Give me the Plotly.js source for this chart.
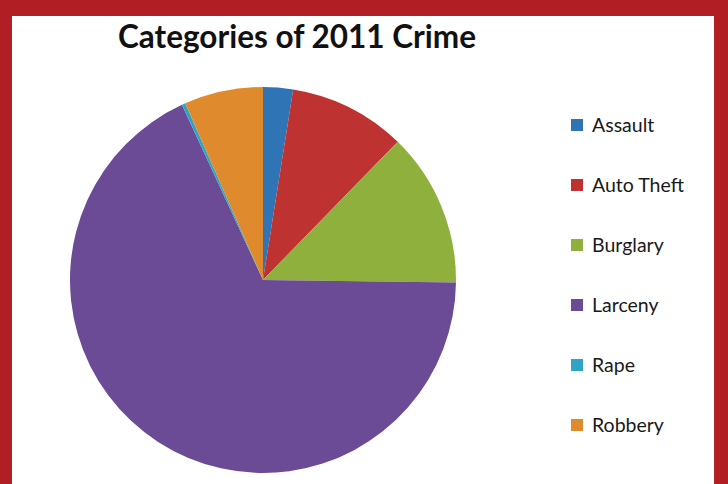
<!DOCTYPE html>
<html>
<head>
<meta charset="utf-8">
<script src="https://cdn.plot.ly/plotly-3.0.1.min.js"></script>
<style>
  html, body { margin: 0; padding: 0; background: #b11f24; width: 728px; height: 484px; overflow: hidden; }
  #chart { position: absolute; left: 12px; top: 16px; width: 702px; height: 468px; background: #ffffff; }
</style>
</head>
<body>
<div id="chart"></div>
<script>
const categories = ["Assault", "Auto Theft", "Burglary", "Larceny", "Rape", "Robbery"];
const shares = [2.5, 9.8, 12.9, 67.9, 0.3, 6.6];
const colors = ["#2f74b5", "#bf3232", "#8fb03c", "#6b4a96", "#2ea6c3", "#df8a2c"];
const chartTitle = "Categories of 2011 Crime";

const W = 702, H = 468;
const legendTop = 109;   // px within div, first item centre
const legendStep = 60;
const shapes = [];
const annotations = [];
categories.forEach((c, i) => {
  const yc = legendTop + i * legendStep;
  shapes.push({
    type: "rect", xref: "paper", yref: "paper",
    x0: 559 / W, x1: 571 / W,
    y0: 1 - (yc + 6) / H, y1: 1 - (yc - 6) / H,
    fillcolor: colors[i], line: { width: 0 }
  });
  annotations.push({
    xref: "paper", yref: "paper", x: 578 / W, y: 1 - (yc - 1) / H,
    xanchor: "left", yanchor: "middle", showarrow: false,
    text: c, font: { family: "Lato, 'Open Sans', sans-serif", size: 19.5, color: "#1a1a1a" }
  });
});

const data = [{
  type: "pie",
  labels: categories,
  values: shares,
  sort: false,
  direction: "clockwise",
  rotation: 0,
  textinfo: "none",
  marker: { colors: colors, line: { width: 0 } },
  domain: { x: [58 / W, 444 / W], y: [1 - 457 / H, 1 - 71 / H] },
  showlegend: false
}];

const layout = {
  width: W, height: H,
  margin: { l: 0, r: 0, t: 0, b: 0 },
  paper_bgcolor: "#ffffff",
  showlegend: false,
  title: {
    text: "<b>" + chartTitle + "</b>",
    x: 285 / W, xanchor: "center",
    y: 1 - 21 / H, yanchor: "middle",
    font: { family: "Lato, 'Open Sans', sans-serif", size: 31.5, color: "#111111" }
  },
  shapes: shapes,
  annotations: annotations
};

Plotly.newPlot("chart", data, layout, { displayModeBar: false, staticPlot: true });
</script>
</body>
</html>
